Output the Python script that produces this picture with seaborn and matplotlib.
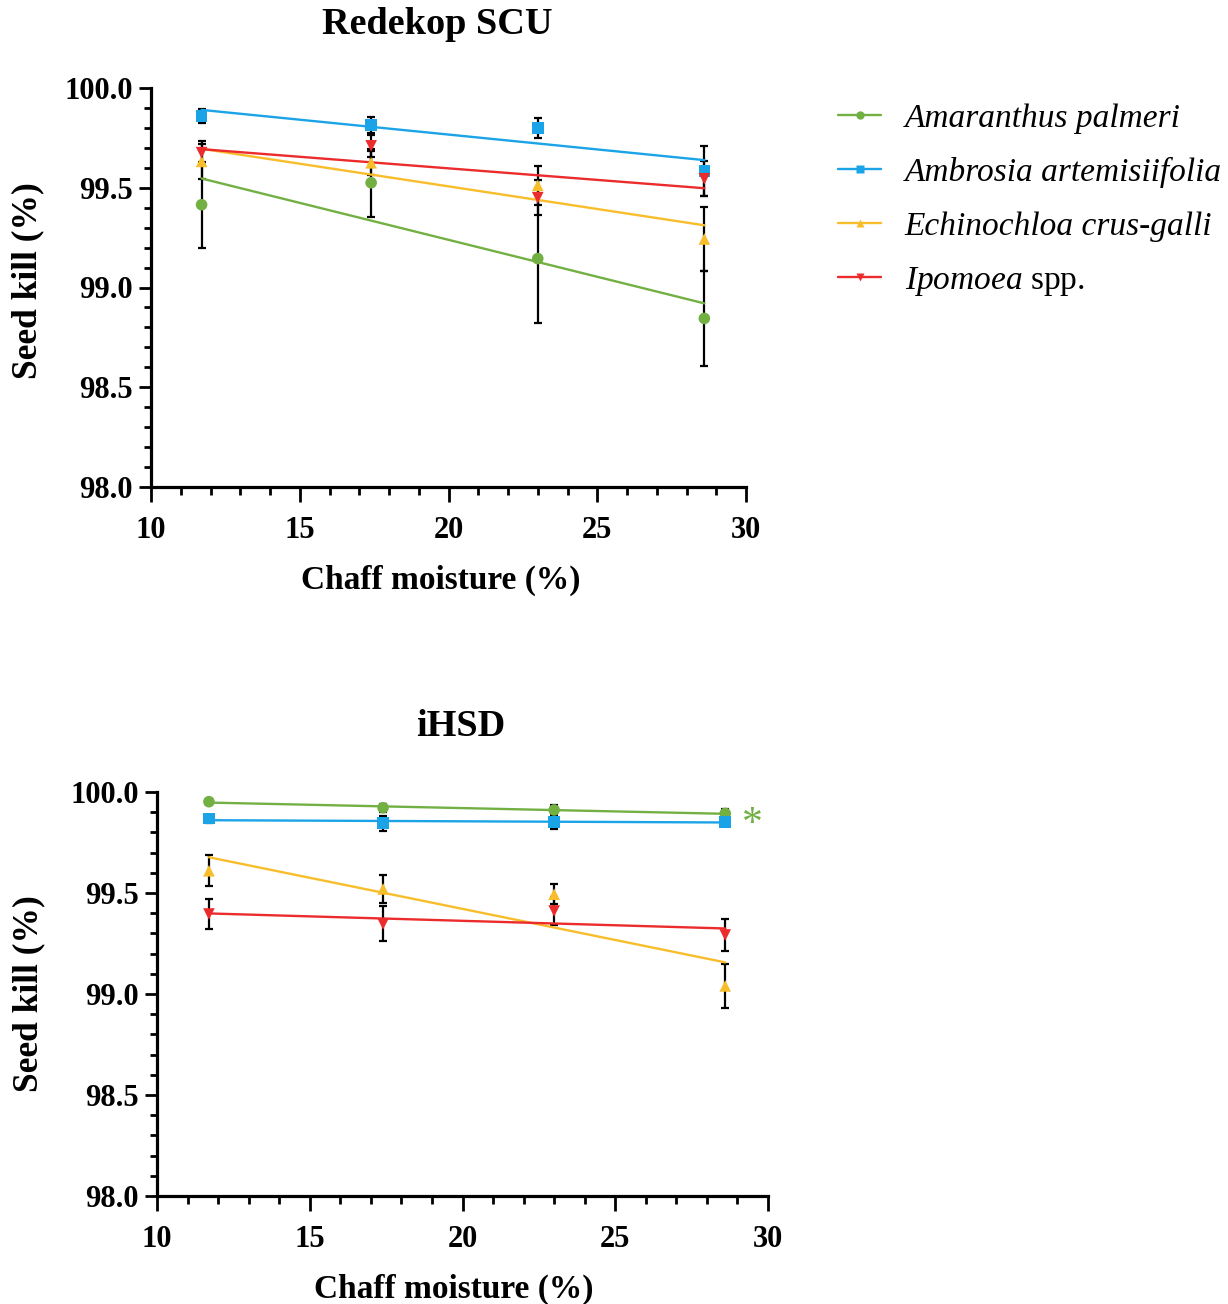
import numpy as np
import pandas as pd
import matplotlib
matplotlib.use("Agg")
import matplotlib.pyplot as plt
from matplotlib.lines import Line2D
from matplotlib.ticker import MultipleLocator, FormatStrFormatter
import seaborn as sns

# chaff moisture levels (%)
moisture = [11.7, 17.4, 23.0, 28.6]

species = ["Amaranthus palmeri", "Ambrosia artemisiifolia",
           "Echinochloa crus-galli", "Ipomoea spp."]

# Redekop SCU - mean seed kill and error
scu_amaranthus = [99.415, 99.525, 99.145, 98.845]
scu_amaranthus_err = [0.215, 0.17, 0.325, 0.24]
scu_ambrosia = [99.86, 99.813, 99.798, 99.585]
scu_ambrosia_err = [0.034, 0.04, 0.05, 0.125]
scu_echinochloa = [99.632, 99.625, 99.512, 99.243]
scu_echinochloa_err = [0.088, 0.06, 0.098, 0.161]
scu_ipomoea = [99.676, 99.71, 99.45, 99.545]
scu_ipomoea_err = [0.06, 0.055, 0.088, 0.087]

# iHSD - mean seed kill and error
ihsd_amaranthus = [99.952, 99.922, 99.911, 99.894]
ihsd_amaranthus_err = [0.005, 0.02, 0.025, 0.02]
ihsd_ambrosia = [99.868, 99.845, 99.853, 99.853]
ihsd_ambrosia_err = [0.02, 0.037, 0.034, 0.02]
ihsd_echinochloa = [99.61, 99.52, 99.494, 99.04]
ihsd_echinochloa_err = [0.076, 0.07, 0.05, 0.11]
ihsd_ipomoea = [99.396, 99.347, 99.411, 99.292]
ihsd_ipomoea_err = [0.072, 0.087, 0.07, 0.08]

colors = ["#72b043", "#1ba3e8", "#f8bd2b", "#ec2c2c"]
markers = ["o", "s", "^", "v"]
# legend text is italic; "spp." goes back to upright via mathtext
legend_labels = ["Amaranthus palmeri", "Ambrosia artemisiifolia",
                 "Echinochloa crus-galli", r"Ipomoea $\mathrm{spp.}$"]


def make_df(means, errs):
    rows = []
    for sp, m, e in zip(species, means, errs):
        for x, y, err in zip(moisture, m, e):
            rows.append([sp, x, y, err])
    return pd.DataFrame(rows, columns=["species", "moisture", "kill", "err"])


df_scu = make_df([scu_amaranthus, scu_ambrosia, scu_echinochloa, scu_ipomoea],
                 [scu_amaranthus_err, scu_ambrosia_err, scu_echinochloa_err, scu_ipomoea_err])
df_ihsd = make_df([ihsd_amaranthus, ihsd_ambrosia, ihsd_echinochloa, ihsd_ipomoea],
                  [ihsd_amaranthus_err, ihsd_ambrosia_err, ihsd_echinochloa_err, ihsd_ipomoea_err])

sns.set_style("ticks")
plt.rcParams["font.family"] = ["Liberation Serif", "DejaVu Serif"]
plt.rcParams["mathtext.fontset"] = "custom"
plt.rcParams["mathtext.it"] = "Liberation Serif:italic"
plt.rcParams["mathtext.rm"] = "Liberation Serif"
plt.rcParams["mathtext.bf"] = "Liberation Serif:bold"
for key in ["text.color", "axes.labelcolor", "xtick.color", "ytick.color", "axes.edgecolor"]:
    plt.rcParams[key] = "black"

fig = plt.figure(figsize=(12.28, 13.04), dpi=100)
W, H = 1228, 1304
ax1 = fig.add_axes([151 / W, 1 - 487 / H, 595 / W, 399 / H])
ax2 = fig.add_axes([157 / W, 1 - 1196 / H, 611 / W, 404 / H])


def draw_panel(ax, df, xlab_x, ylab_xy):
    for sp, c, mk in zip(species, colors, markers):
        d = df[df["species"] == sp]
        ax.errorbar(d["moisture"], d["kill"], yerr=d["err"], fmt="none",
                    ecolor="black", elinewidth=1.6, capsize=3, capthick=1.6, zorder=2)
        sns.regplot(x="moisture", y="kill", data=d, scatter=False, ci=None,
                    truncate=True, color=c, line_kws={"lw": 1.7, "zorder": 3}, ax=ax)
        sns.scatterplot(x="moisture", y="kill", data=d, marker=mk, color=c, s=70,
                        edgecolor="none", zorder=4, ax=ax, legend=False)
    ax.set_xlim(10, 30)
    ax.set_ylim(98.0, 100.0)
    ax.xaxis.set_major_locator(MultipleLocator(5))
    ax.xaxis.set_minor_locator(MultipleLocator(1))
    ax.yaxis.set_major_locator(MultipleLocator(0.5))
    ax.yaxis.set_minor_locator(MultipleLocator(0.1))
    ax.yaxis.set_major_formatter(FormatStrFormatter("%.1f"))
    for s in ["top", "right"]:
        ax.spines[s].set_visible(False)
    for s in ["left", "bottom"]:
        ax.spines[s].set_linewidth(2.3)
    ax.tick_params(axis="x", which="major", length=11, width=2, pad=10)
    ax.tick_params(axis="x", which="minor", length=6, width=2)
    ax.tick_params(axis="y", which="major", length=9, width=2, pad=4)
    ax.tick_params(axis="y", which="minor", length=5, width=2)
    for lab in ax.get_xticklabels() + ax.get_yticklabels():
        lab.set_fontsize(22)
        lab.set_fontweight("bold")
    ax.set_xlabel("Chaff moisture (%)", fontsize=24, fontweight="bold", labelpad=14)
    ax.xaxis.label.set_x(xlab_x)
    ax.set_ylabel("Seed kill (%)", fontsize=25.5, fontweight="bold")
    ax.yaxis.set_label_coords(*ylab_xy)


draw_panel(ax1, df_scu, 0.487, (-0.180, 0.516))
draw_panel(ax2, df_ihsd, 0.486, (-0.183, 0.5))

fig.text(437 / W, 1 - 25 / H, "Redekop SCU", fontsize=27.5, fontweight="bold",
         ha="center", va="center")
fig.text(461 / W, 1 - 727 / H, "iHSD", fontsize=27.5, fontweight="bold",
         ha="center", va="center")

# significance marker
ax2.text(29.5, 99.84, "*", color=colors[0], fontsize=30, ha="center", va="center",
         clip_on=False)

handles = [Line2D([0], [0], color=c, marker=mk, markersize=6, lw=1.7,
                  markeredgecolor="none") for c, mk in zip(colors, markers)]
fig.legend(handles, legend_labels, loc="upper left",
           bbox_to_anchor=(808 / W, 1 - 73 / H), frameon=False,
           prop={"family": "Liberation Serif", "size": 24, "style": "italic"},
           handlelength=1.3, handletextpad=0.7, labelspacing=0.7)

fig.savefig("out.png", dpi=100)
